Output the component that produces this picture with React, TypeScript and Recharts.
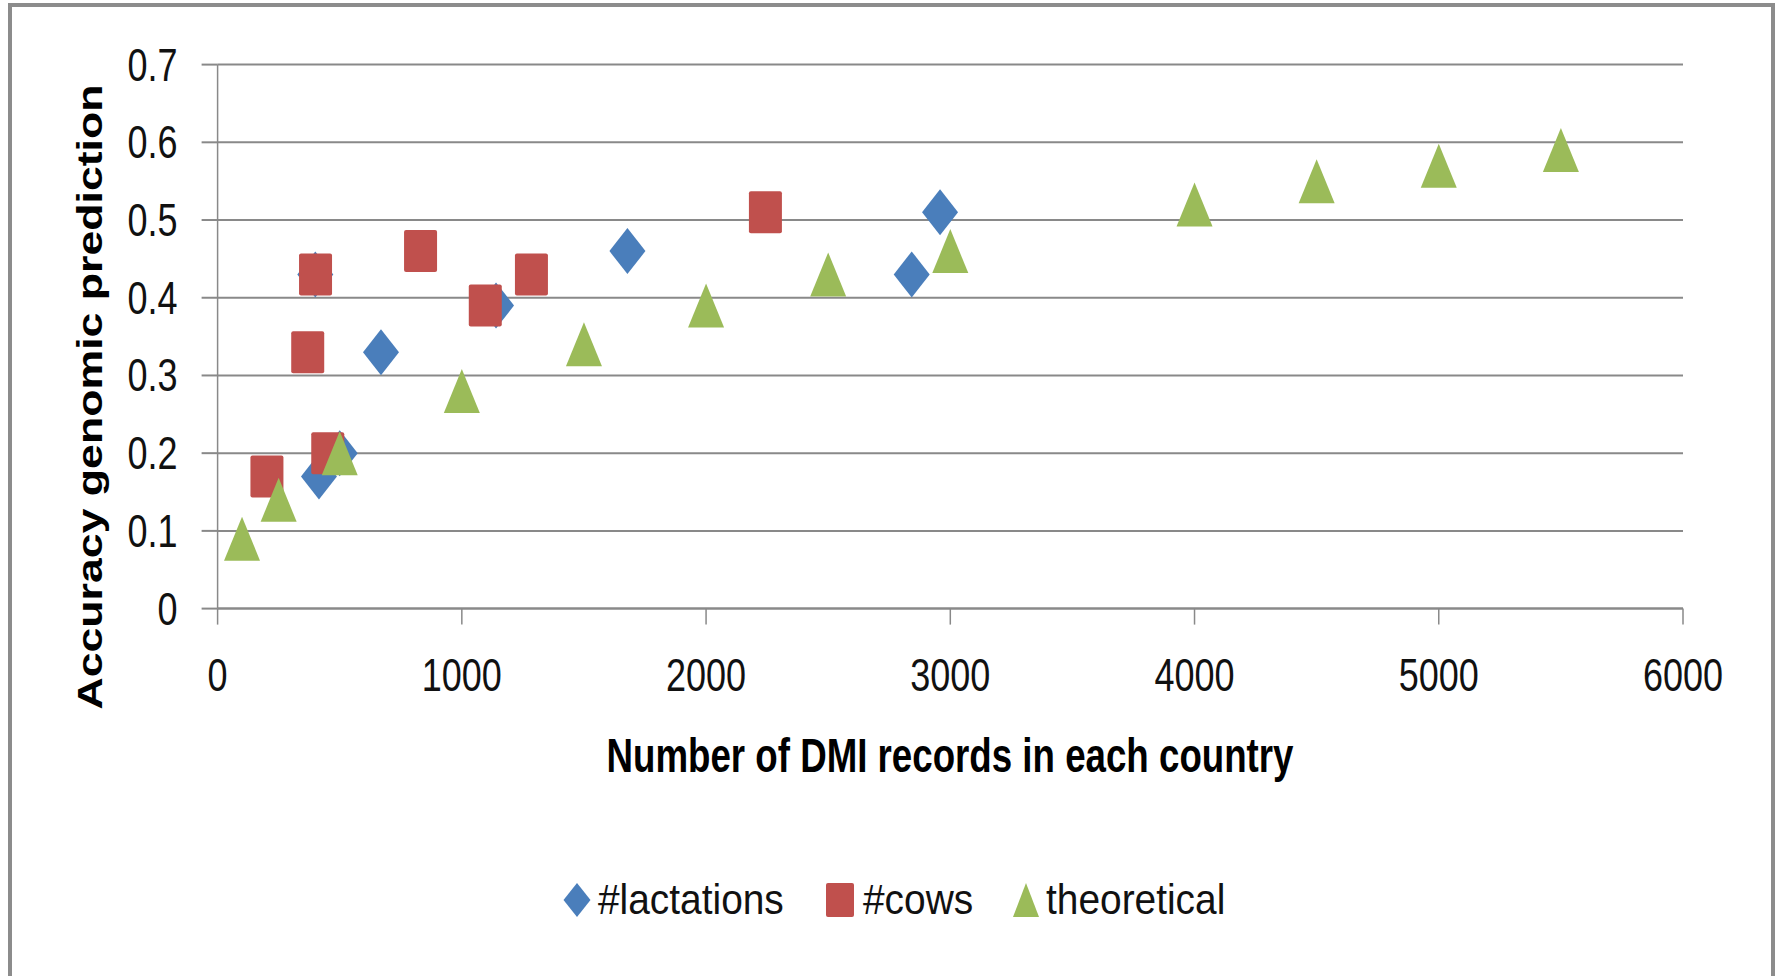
import { ScatterChart, Scatter, XAxis, YAxis, CartesianGrid, Label } from 'recharts';

// #lactations
const lactX = [400, 415, 500, 669, 1140, 1678, 2842, 2958];
const lactY = [0.43, 0.17, 0.2, 0.33, 0.39, 0.46, 0.43, 0.51];
// #cows
const cowsX = [202, 369, 401, 451, 831, 1096, 1285, 2243];
const cowsY = [0.17, 0.33, 0.43, 0.2, 0.46, 0.39, 0.43, 0.51];
// theoretical
const theoX = [100, 250, 500, 1000, 1500, 2000, 2500, 3000, 4000, 4500, 5000, 5500];
const theoY = [0.09, 0.14, 0.2, 0.28, 0.34, 0.39, 0.43, 0.46, 0.52, 0.55, 0.57, 0.59];

const xTicks = [0, 1000, 2000, 3000, 4000, 5000, 6000];
const yTicks = [0, 0.1, 0.2, 0.3, 0.4, 0.5, 0.6, 0.7];

const seriesNames = ['#lactations', '#cows', 'theoretical'];

const toPoints = (xs: number[], ys: number[]) => xs.map((x, i) => ({ x, y: ys[i] }));

const BLUE = '#4a7ebb';
const RED = '#c0504d';
const GREEN = '#9bbb59';
const GRID = '#898989';
const FONT = '"Liberation Sans", Arial, sans-serif';

const Diamond = ({ cx, cy, w = 36, h = 46 }: any) => (
  <polygon points={`${cx},${cy - h / 2} ${cx + w / 2},${cy} ${cx},${cy + h / 2} ${cx - w / 2},${cy}`} fill={BLUE} />
);
const Square = ({ cx, cy, w = 33, h = 42 }: any) => (
  <rect x={cx - w / 2} y={cy - h / 2} width={w} height={h} rx={2} fill={RED} />
);
const Triangle = ({ cx, cy, w = 36, h = 44 }: any) => (
  <polygon points={`${cx},${cy - h / 2} ${cx + w / 2},${cy + h / 2} ${cx - w / 2},${cy + h / 2}`} fill={GREEN} />
);

const XTick = ({ x, y, payload }: any) => (
  <text transform={`translate(${x},${y + 66}) scale(1,1.3)`} textAnchor="middle" fontFamily={FONT} fontSize={36} fill="#111">
    {payload.value}
  </text>
);

const YTick = ({ x, y, payload }: any) => (
  <text transform={`translate(${x - 24},${y + 16}) scale(1,1.3)`} textAnchor="end" fontFamily={FONT} fontSize={36} fill="#111">
    {payload.value}
  </text>
);

// legend positions (marker centre, text start)
const legendItems = [
  { marker: Diamond, cx: 577, tx: 598, w: 27 },
  { marker: Square, cx: 840, tx: 863, w: 28 },
  { marker: Triangle, cx: 1026, tx: 1046, w: 26 },
];

export default function App() {
  return (
    <div style={{ position: 'fixed', left: 0, top: 0, width: 1777, height: 976, overflow: 'hidden', background: '#fff' }}>
      <div
        style={{
          position: 'absolute', left: 8, top: 3, width: 1767, height: 1010,
          border: '4px solid #8c8c8c', boxSizing: 'border-box',
        }}
      />
      <div style={{ position: 'absolute', left: 0, top: 0 }}>
        <ScatterChart width={1777} height={976} margin={{ top: 64.6, right: 94, bottom: 267.4, left: 17.6 }}>
          <CartesianGrid horizontal vertical={false} stroke={GRID} strokeWidth={2} />
          <XAxis
            type="number"
            dataKey="x"
            domain={[0, 6000]}
            ticks={xTicks}
            height={100}
            tickSize={16}
            tickMargin={0}
            tick={<XTick />}
            axisLine={{ stroke: GRID, strokeWidth: 2 }}
            tickLine={{ stroke: GRID, strokeWidth: 1.5 }}
          >
            <Label
              content={() => (
                <text transform="translate(950,772) scale(1,1.29)" textAnchor="middle" fontFamily={FONT} fontWeight="bold" fontSize={36.7} fill="#000">
                  Number of DMI records in each country
                </text>
              )}
            />
          </XAxis>
          <YAxis
            type="number"
            dataKey="y"
            domain={[0, 0.7]}
            ticks={yTicks}
            width={200}
            tickSize={16}
            tickMargin={0}
            tick={<YTick />}
            axisLine={{ stroke: GRID, strokeWidth: 1.5 }}
            tickLine={{ stroke: GRID, strokeWidth: 2 }}
          >
            <Label
              content={() => (
                <text transform="translate(102,397) scale(1,1.24) rotate(-90)" textAnchor="middle" fontFamily={FONT} fontWeight="bold" fontSize={36} fill="#000">
                  Accuracy genomic prediction
                </text>
              )}
            />
          </YAxis>
          <Scatter name={seriesNames[0]} data={toPoints(lactX, lactY)} shape={(p: any) => <Diamond cx={p.cx} cy={p.cy} />} isAnimationActive={false} />
          <Scatter name={seriesNames[1]} data={toPoints(cowsX, cowsY)} shape={(p: any) => <Square cx={p.cx} cy={p.cy} />} isAnimationActive={false} />
          <Scatter name={seriesNames[2]} data={toPoints(theoX, theoY)} shape={(p: any) => <Triangle cx={p.cx} cy={p.cy} />} isAnimationActive={false} />
        </ScatterChart>
      </div>
      {/* legend */}
      <svg width={1777} height={976} style={{ position: 'absolute', left: 0, top: 0, pointerEvents: 'none' }}>
        {legendItems.map((it, i) => {
          const M = it.marker;
          return (
            <g key={seriesNames[i]}>
              <M cx={it.cx} cy={900} w={it.w} h={34} />
              <text transform={`translate(${it.tx},914) scale(1.08,1.2)`} fontFamily={FONT} fontSize={36} fill="#111">
                {seriesNames[i]}
              </text>
            </g>
          );
        })}
      </svg>
    </div>
  );
}
